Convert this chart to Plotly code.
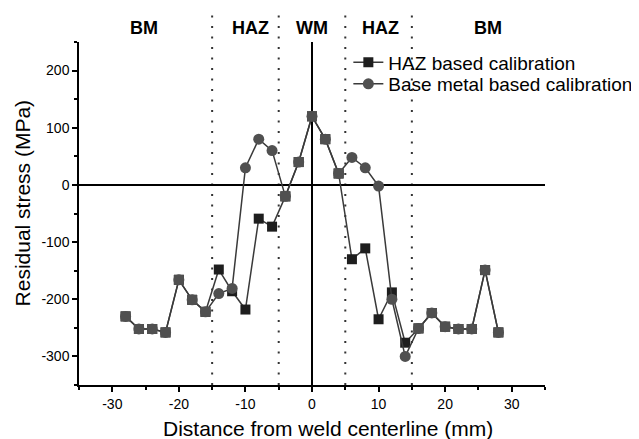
import numpy as np
import plotly.graph_objects as go

# ---- data ----
distance = [-28, -26, -24, -22, -20, -18, -16, -14, -12, -10, -8, -6, -4, -2,
            0, 2, 4, 6, 8, 10, 12, 14, 16, 18, 20, 22, 24, 26, 28]
haz_calib = [-230, -252, -252, -258, -166, -201, -222, -148, -186, -218, -59, -73, -20, 40,
             120, 80, 20, -130, -111, -235, -188, -276, -251, -224, -248, -252, -252, -149, -258]
bm_calib = [-230, -252, -252, -258, -166, -201, -222, -190, -181, 30, 80, 60, -20, 40,
            120, 80, 20, 48, 30, -2, -200, -300, -251, -224, -248, -252, -252, -149, -258]
zone_bounds = [-15, -5, 5, 15]
zone_labels = ["BM", "HAZ", "WM", "HAZ", "BM"]
zone_label_x = [-25.3, -9.3, 0, 10.3, 26.5]
x_ticks = [-30, -20, -10, 0, 10, 20, 30]
y_ticks = [-300, -200, -100, 0, 100, 200]

FONT = "Liberation Sans, Arial, sans-serif"
BLACK_M = "#1e1e1e"
GRAY_M = "#505050"
LINE_C = "#3a3a3a"

fig = go.Figure()
fig.add_trace(go.Scatter(
    x=distance, y=haz_calib, mode="lines+markers", name="HAZ based calibration",
    line=dict(color=LINE_C, width=1.5),
    marker=dict(symbol="square", size=10, color=BLACK_M), legend="legend",
))
fig.add_trace(go.Scatter(
    x=distance, y=bm_calib, mode="lines+markers", name="Base metal based calibration",
    line=dict(color=LINE_C, width=1.5),
    marker=dict(symbol="circle", size=11, color=GRAY_M), legend="legend2",
))
# points where both calibrations agree appear as gray squares
d = np.array(distance)
h = np.array(haz_calib)
b = np.array(bm_calib)
same = h == b
fig.add_trace(go.Scatter(
    x=d[same], y=h[same], mode="markers", showlegend=False, hoverinfo="skip",
    marker=dict(symbol="square", size=10, color=GRAY_M),
))

shapes = []
for xb in zone_bounds:
    shapes.append(dict(type="line", xref="x", yref="paper", x0=xb, x1=xb, y0=0, y1=1.093,
                       line=dict(color="#333333", width=2, dash="2px,8.5px"), layer="below"))

annotations = []
for lab, xl in zip(zone_labels, zone_label_x):
    annotations.append(dict(x=xl, y=1.04, xref="x", yref="paper", text="<b>%s</b>" % lab,
                            showarrow=False, font=dict(family=FONT, size=18, color="black"),
                            xanchor="center", yanchor="middle"))
annotations.append(dict(x=0.535, y=-0.128, xref="paper", yref="paper",
                        text="Distance from weld centerline (mm)", showarrow=False,
                        font=dict(family=FONT, size=21, color="black"),
                        xanchor="center", yanchor="middle"))
annotations.append(dict(x=-0.1218, y=0.53, xref="paper", yref="paper",
                        text="Residual stress (MPa)", showarrow=False, textangle=-90,
                        font=dict(family=FONT, size=21, color="black"),
                        xanchor="center", yanchor="middle"))

leg_common = dict(xanchor="left", yanchor="top", bgcolor="rgba(0,0,0,0)",
                  font=dict(family=FONT, size=19, color="black"))

fig.update_layout(
    width=631, height=439,
    margin=dict(l=70.5, r=94, t=34, b=62, pad=0, autoexpand=False),
    paper_bgcolor="white", plot_bgcolor="white",
    font=dict(family=FONT, size=14, color="black"),
    shapes=shapes, annotations=annotations,
    legend=dict(x=0.578, y=0.996, **leg_common),
    legend2=dict(x=0.578, y=0.933, **leg_common),
    xaxis=dict(range=[-35, 35], tickvals=x_ticks, ticktext=[str(v) for v in x_ticks],
               showgrid=False,
               zeroline=True, zerolinecolor="black", zerolinewidth=1.5,
               showline=True, linecolor="black", linewidth=1.5,
               ticks="outside", ticklen=5, tickwidth=1.5, tickcolor="black",
               minor=dict(dtick=5, tick0=0, ticks="outside", ticklen=3, tickwidth=1.5,
                          tickcolor="black", showgrid=False),
               tickfont=dict(family=FONT, size=14)),
    yaxis=dict(range=[-350, 250], tickvals=y_ticks, ticktext=[str(v) for v in y_ticks],
               showgrid=False,
               zeroline=True, zerolinecolor="black", zerolinewidth=1.5,
               showline=True, linecolor="black", linewidth=1.5,
               ticks="outside", ticklen=5, tickwidth=1.5, tickcolor="black",
               minor=dict(dtick=50, tick0=0, ticks="outside", ticklen=3, tickwidth=1.5,
                          tickcolor="black", showgrid=False),
               tickfont=dict(family=FONT, size=14)),
)

fig.write_html("out.html")
